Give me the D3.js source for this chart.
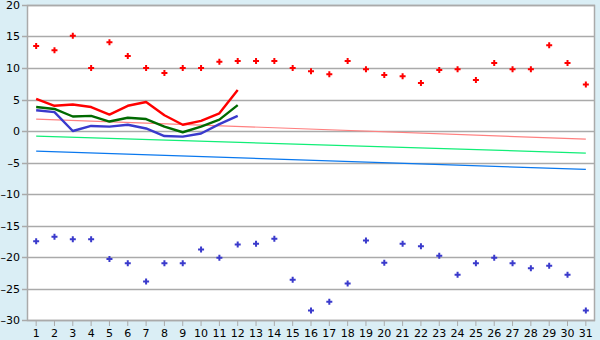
<!DOCTYPE html>
<html><head><meta charset="utf-8">
<script src="https://cdn.jsdelivr.net/npm/d3@7"></script>
<style>body{margin:0;background:#daeef5;}svg{display:block;}</style>
</head><body>
<svg id="c" width="600" height="340"></svg>
<script>
const days = d3.range(1, 32);
const maxTemps = [13.5,12.8,15.1,10.0,14.1,11.9,10.0,9.2,10.0,10.0,11.0,11.1,11.1,11.1,10.0,9.5,9.0,11.1,9.8,8.9,8.7,7.6,9.7,9.8,8.1,10.8,9.8,9.8,13.6,10.8,7.4];
const minTemps = [-17.5,-16.8,-17.2,-17.2,-20.3,-21.0,-23.9,-21.0,-21.0,-18.8,-20.1,-18.0,-17.9,-17.1,-23.6,-28.5,-27.1,-24.2,-17.4,-20.9,-17.9,-18.3,-19.8,-22.8,-21.0,-20.1,-21.0,-21.8,-21.4,-22.8,-28.5];
const lineDays = [1,2,3,4,5,6,7,8,9,10,11,12];
const redLine   = [5.1,4.0,4.2,3.8,2.6,4.0,4.6,2.5,1.0,1.6,2.8,6.5];
const greenLine = [3.8,3.5,2.3,2.4,1.5,2.1,1.9,0.7,-0.2,0.7,1.8,4.1];
const blueLine  = [3.3,3.0,0.0,0.8,0.7,1.0,0.4,-0.8,-0.9,-0.4,1.1,2.4];
const normalDays = [1,31];
const normalMax  = [1.9,-1.3];
const normalMean = [-0.8,-3.5];
const normalMin  = [-3.2,-6.1];
const yTicks = [20,15,10,5,0,-5,-10,-15,-20,-25,-30];

const svg = d3.select('#c');
const L=27, R=595, T=5, B=320;
const x = d3.scaleBand().domain(days).range([L,R]).padding(0);
const cx = d => x(d) + x.bandwidth()/2;
const y = d3.scaleLinear().domain([-30,20]).range([B,T]);
const fmt = d => (d < 0 ? '\u2013' + Math.abs(d) : String(d));

svg.append('rect').attr('x',L).attr('y',T).attr('width',R-L).attr('height',B-T).attr('fill','#fff');

// y grid + ticks
const yAxis = svg.append('g').attr('transform',`translate(${L},0)`)
  .call(d3.axisLeft(y).tickValues(yTicks).tickSize(5).tickPadding(2).tickFormat(fmt));
yAxis.select('.domain').remove();
yAxis.selectAll('line').attr('stroke','#aaa').attr('stroke-width',1.5);
yAxis.selectAll('text').attr('font-family','DejaVu Sans').attr('font-size',11).attr('fill','#000');
svg.append('g').selectAll('line').data(yTicks).join('line')
  .attr('x1',L).attr('x2',R).attr('y1',d=>Math.round(y(d))+0.5).attr('y2',d=>Math.round(y(d))+0.5)
  .attr('stroke','#aaa').attr('stroke-width',1.5);
yAxis.selectAll('.tick').attr('transform',d=>`translate(0,${Math.round(y(d))+0.5})`);

// x axis
const xAxis = svg.append('g').attr('transform',`translate(0,${B})`)
  .call(d3.axisBottom(x).tickSize(6).tickPadding(3));
xAxis.select('.domain').remove();
xAxis.selectAll('line').attr('stroke','#aaa');
xAxis.selectAll('text').attr('font-family','DejaVu Sans').attr('font-size',11).attr('fill','#000');

// frame
svg.append('rect').attr('x',L+0.5).attr('y',T+0.5).attr('width',R-L-1).attr('height',B-T)
  .attr('fill','none').attr('stroke','#aaa').attr('stroke-width',1.5);

const line = d3.line().x(d=>cx(d[0])).y(d=>y(d[1]));
const draw = (xs, vals, color, w) => svg.append('path')
  .attr('d', line(xs.map((d,i)=>[d, vals[i]])))
  .attr('fill','none').attr('stroke',color).attr('stroke-width',w).attr('stroke-linejoin','round');

draw(normalDays, normalMax, '#ff8080', 1.2);
draw(normalDays, normalMean, '#11ee77', 1.2);
draw(normalDays, normalMin, '#0a78ee', 1.2);
draw(lineDays, redLine, '#ff0000', 2.4);
draw(lineDays, greenLine, '#006a00', 2.4);
draw(lineDays, blueLine, '#3a3acc', 2.4);

const sym = d3.symbol().type(d3.symbolCross).size(20);
svg.append('g').selectAll('path').data(days).join('path')
  .attr('d',sym).attr('transform',(d,i)=>`translate(${cx(d)},${y(maxTemps[i])})`).attr('fill','#ff0000');
svg.append('g').selectAll('path').data(days).join('path')
  .attr('d',sym).attr('transform',(d,i)=>`translate(${cx(d)},${y(minTemps[i])})`).attr('fill','#3a3acc');
</script>
</body></html>
